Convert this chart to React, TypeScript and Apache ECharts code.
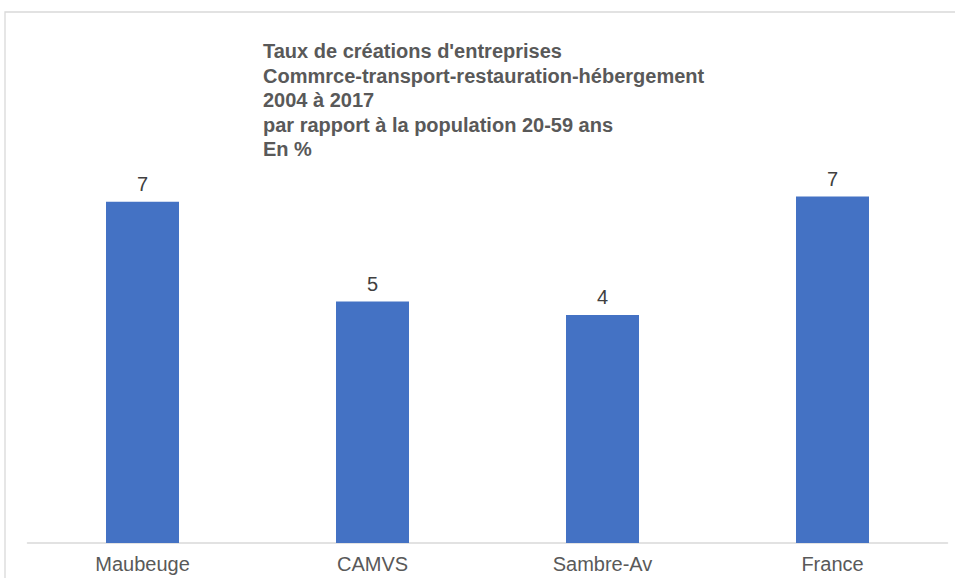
import React, { useEffect, useRef } from "react";
import * as echarts from "echarts";

const categories = ["Maubeuge", "CAMVS", "Sambre-Av", "France"];
const values = [6.6, 4.67, 4.41, 6.7];
const titleLines = [
  "Taux de créations d'entreprises",
  "Commrce-transport-restauration-hébergement",
  "2004 à 2017",
  "par rapport à la population 20-59 ans",
  "En %",
];

export default function App() {
  const ref = useRef<HTMLDivElement>(null);
  useEffect(() => {
    if (!ref.current) return;
    const chart = echarts.init(ref.current, null, { renderer: "svg" });
    chart.setOption({
      animation: false,
      backgroundColor: "#ffffff",
      textStyle: { fontFamily: "Liberation Sans, Arial, sans-serif" },
      graphic: [
        {
          type: "rect",
          shape: { x: 5, y: 12, width: 960, height: 600 },
          style: { fill: "none", stroke: "#d9d9d9", lineWidth: 1.3 },
          silent: true,
        },
        {
          type: "text",
          left: 263,
          top: 39,
          style: {
            text: titleLines.join("\n"),
            fill: "#595959",
            font: "bold 20px 'Liberation Sans', Arial, sans-serif",
            lineHeight: 24.5,
          },
        },
      ],
      grid: { left: 27.5, right: 7.5, top: 26, bottom: 35, containLabel: false },
      xAxis: {
        type: "category",
        data: categories,
        axisLine: { show: true, lineStyle: { color: "#d9d9d9", width: 1.5 } },
        axisTick: { show: false },
        axisLabel: {
          color: "#595959",
          fontSize: 20,
          margin: 11,
          fontFamily: "Liberation Sans, Arial, sans-serif",
        },
      },
      yAxis: {
        type: "value",
        min: 0,
        max: 10,
        show: false,
        splitLine: { show: false },
      },
      series: [
        {
          type: "bar",
          data: values,
          barWidth: 73,
          itemStyle: { color: "#4472c4" },
          label: {
            show: true,
            position: "top",
            distance: 8,
            color: "#404040",
            fontSize: 20,
            fontFamily: "Liberation Sans, Arial, sans-serif",
            formatter: (p: any) => String(Math.round(p.value)),
          },
        },
      ],
    });
    return () => chart.dispose();
  }, []);
  return (
    <div
      ref={ref}
      style={{ position: "fixed", left: 0, top: 0, width: 955, height: 578 }}
    />
  );
}
